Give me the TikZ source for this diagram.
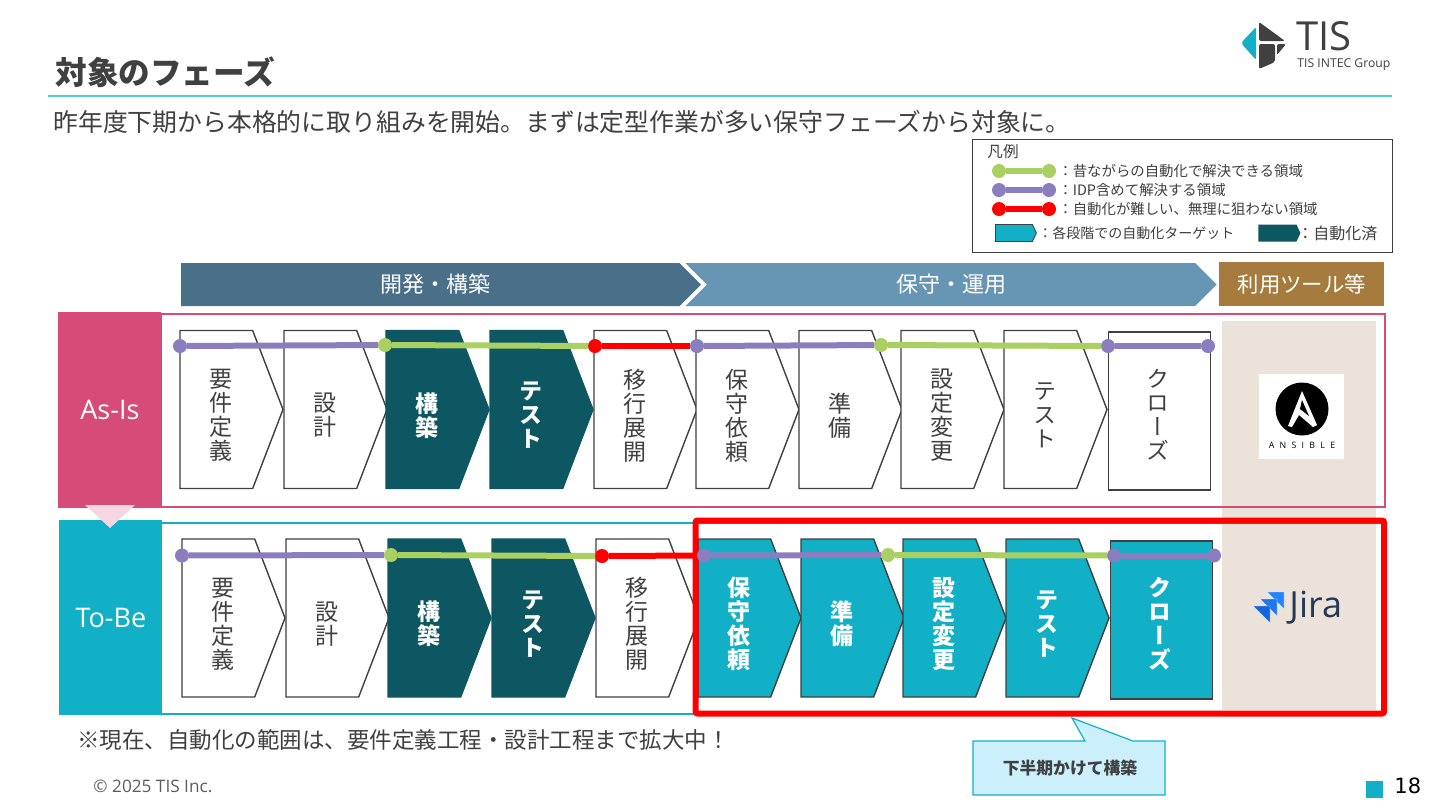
\documentclass[tikz,border=0pt]{standalone}
\usepackage{fontspec}
\setmainfont{Noto Sans CJK JP}
\newfontfamily\vertfont[RawFeature={+vert}]{Noto Sans CJK JP}
\newfontfamily\latinfont{Open Sans}
\newfontfamily\ansiblefont[LetterSpace=60]{Open Sans}
\newfontfamily\dejafont{DejaVu Sans}
\usepackage{xcolor}
\definecolor{inkgray}{HTML}{404040}
\definecolor{asisred}{HTML}{D64B78}
\definecolor{tobecyan}{HTML}{12B0C7}
\definecolor{doneteal}{HTML}{0C5762}
\definecolor{devblue}{HTML}{4A7089}
\definecolor{opsblue}{HTML}{6795B4}
\definecolor{toolbrown}{HTML}{A57C3E}
\definecolor{panelbeige}{HTML}{EBE3DA}
\definecolor{idppurple}{HTML}{8B7EBE}
\definecolor{oldgreen}{HTML}{AACF62}
\definecolor{hardred}{HTML}{FF0000}
\definecolor{jiranavy}{HTML}{253858}
\definecolor{jiratop}{HTML}{2684FF}
\definecolor{jiramid}{HTML}{1F78F0}
\definecolor{jirabot}{HTML}{1466E0}
\usetikzlibrary{
  arrows.meta,
  positioning,
  shapes.symbols,
  calc
}
\tikzset{
  stepshape/.style={shape=signal, signal to=east, signal pointer angle=138,
    minimum width=103*0.5pt, minimum height=158*0.5pt, inner sep=0pt,
    outer sep=0pt, anchor=west, align=center, line width=0.7pt, draw=inkgray},
  stepwhite/.style={stepshape, fill=white, text=inkgray,
    font=\fontsize{11.5}{12}\vertfont},
  stepdone/.style={stepshape, fill=doneteal, draw=doneteal, text=white,
    font=\fontsize{11.5}{12}\vertfont\bfseries},
  steptarget/.style={stepshape, fill=tobecyan, text=white,
    font=\fontsize{11.5}{12}\vertfont\bfseries},
  phasehead/.style={shape=signal, signal to=east,
    signal pointer angle=90, minimum height=43*0.5pt, inner sep=0pt,
    outer sep=0pt, anchor=west, text=white, font=\fontsize{11}{12}\selectfont},
  rowtab/.style={minimum width=103*0.5pt, inner sep=0pt, anchor=north west,
    text=white, font=\fontsize{13.5}{14}\latinfont},
  dotnode/.style={circle, minimum size=7pt, inner sep=0pt, outer sep=0pt},
  segline/.style={line width=3pt},
  legendtext/.style={anchor=west, inner sep=0pt, text=inkgray,
    font=\fontsize{7.2}{8}\selectfont},
}
% vertical label, nudged off the centre of its box
\newcommand{\vstack}[1]{\vbox{\baselineskip=12pt\lineskiplimit=-20pt\def\\{\cr}\halign{\hfil##\hfil\cr#1\cr}}}
\newcommand{\stepstack}[1]{\hspace*{5pt}\vbox{\kern6pt\vstack{#1}}}
\newcommand{\rectstack}[1]{\vbox{\kern3.4pt\vstack{#1}}\hspace*{2pt}}
\begin{document}
\begin{tikzpicture}[x=0.5pt,y=-0.5pt]
  \useasboundingbox (0,0) rectangle (1440,810);
  \fill[white] (0,0) rectangle (1440,810);

  % Title block
  \node[anchor=west, inner sep=0pt, text=inkgray, font=\fontsize{15.8}{16}\selectfont\bfseries] (title) at (55,72) {対象のフェーズ};
  \draw[tobecyan!70, line width=0.6pt] (48,96) coordinate (rulel) -- (1392,96) coordinate (ruler);
  \node[anchor=west, inner sep=0pt, text=inkgray, font=\fontsize{12.42}{13}\selectfont] (subtitle) at (53,122)
    {昨年度下期から本格的に取り組みを開始。まずは定型作業が多い保守フェーズから対象に。};

  % Logo
  \fill[tobecyan, rounded corners=1pt] (1241,43) -- (1256,27) -- (1256,60) -- cycle;
  \fill[inkgray, rounded corners=1pt] (1259,22) -- (1285,41) -- (1259,41) -- cycle;
  \fill[inkgray, rounded corners=1pt] (1259,44) -- (1275,44) -- (1275,62) -- (1259,69) -- cycle;
  \fill[inkgray, rounded corners=1pt] (1277,44) -- (1286,44) -- (1277,55) -- cycle;
  \node[anchor=west, inner sep=0pt, text=inkgray, font=\fontsize{20}{20}\latinfont] (tis) at (1296,36.5) {TIS};
  \node[anchor=west, inner sep=0pt, text=inkgray, font=\fontsize{6.1}{7}\latinfont] (intec) at (1297,65) {TIS INTEC Group};

  % Legend
  \node[draw=inkgray, line width=0.7pt, fill=white, minimum width=210pt, minimum height=56.5pt,
    inner sep=0pt, anchor=north west] (legend) at (972,139) {};
  \node[legendtext, font=\fontsize{7.8}{8}\selectfont] (legendhead) at (987,152) {凡例};
  \foreach \n/\y/\c/\t in {a/171/oldgreen/：昔ながらの自動化で解決できる領域,
                           b/190/idppurple/：IDP含めて解決する領域,
                           c/209/hardred/：自動化が難しい、無理に狙わない領域} {
    \node[dotnode, fill=\c] (leg\n l) at (999,\y) {};
    \node[dotnode, fill=\c] (leg\n r) at (1049,\y) {};
    \draw[segline, \c] (leg\n l) -- (leg\n r);
    \node[legendtext, xshift=-3pt] (legt\n) at (1064,\y) {\t};
  }
  \node[shape=signal, signal to=east, signal pointer angle=130, draw=inkgray, fill=tobecyan,
    minimum width=20.5pt, minimum height=8.5pt, inner sep=0pt, anchor=west] (legtarget) at (995,233) {};
  \node[legendtext, font=\fontsize{7}{8}\selectfont] (legtargett) at (1038,233) {：各段階での自動化ターゲット};
  \node[shape=signal, signal to=east, signal pointer angle=130, fill=doneteal,
    minimum width=21pt, minimum height=8.5pt, inner sep=0pt, anchor=west] (legdone) at (1258,233) {};
  \node[legendtext, xshift=-3pt, font=\fontsize{8}{9}\selectfont] (legdonet) at (1303,233) {：自動化済};

  % Phase headers
  \node[phasehead, signal from=nowhere, fill=devblue, minimum width=260pt] (dev) at (181,284.5) {\hspace*{5pt}開発・構築};
  \node[phasehead, signal from=west, fill=opsblue, minimum width=265.5pt] (ops) at (707,284.5) {保守・運用};
  \node[anchor=north west, fill=toolbrown, minimum width=82.5pt, minimum height=22pt, inner sep=0pt,
    text=white, font=\fontsize{10.7}{12}\selectfont] (tools) at (1219,262) {利用ツール等};

  % Tool panel and frames
  \fill[panelbeige] (1222,321) coordinate (panelt) rectangle (1376,710) coordinate (panelb);
  \draw[asisred, line width=1pt] (161,313.5) rectangle (1385,507);
  \draw[tobecyan, line width=1pt] (161,523) rectangle (1385,714);
  \node[rowtab, fill=asisred, minimum height=98pt] (asis) at (58,312) {As-Is};
  \node[rowtab, fill=tobecyan, minimum height=97.5pt] (tobe) at (59,520) {To-Be};
  \fill[asisred!22] (85,505) -- (135,505) -- (110,528) -- cycle;

  % As-Is steps
  \foreach \n/\x/\s/\t in {a1/180/stepwhite/要\\件\\定\\義, a2/284/stepwhite/設\\計,
      a3/386/stepdone/構\\築, a4/490/stepdone/テ\\ス\\ト, a5/594/stepwhite/移\\行\\展\\開,
      a6/696/stepwhite/保\\守\\依\\頼, a7/799/stepwhite/準\\備, a8/901/stepwhite/設\\定\\変\\更,
      a9/1004/stepwhite/テ\\ス\\ト} {
    \node[\s] (\n) at (\x,409.5) {\stepstack{\t}};
  }
  \node[draw=inkgray, line width=0.7pt, fill=white, minimum width=51pt, minimum height=79pt, inner sep=0pt,
    anchor=west, align=center, text=inkgray, font=\fontsize{11.5}{12}\vertfont] (a10) at (1108,411) {\rectstack{ク\\ロ\\ー\\ズ}};

  % To-Be steps
  \foreach \n/\x/\s/\t in {b1/182/stepwhite/要\\件\\定\\義, b2/286/stepwhite/設\\計,
      b3/388/stepdone/構\\築, b4/492/stepdone/テ\\ス\\ト, b5/596/stepwhite/移\\行\\展\\開,
      b6/698/steptarget/保\\守\\依\\頼, b7/801/steptarget/準\\備, b8/903/steptarget/設\\定\\変\\更,
      b9/1006/steptarget/テ\\ス\\ト} {
    \node[\s] (\n) at (\x,618) {\stepstack{\t}};
  }
  \node[draw=inkgray, line width=0.7pt, fill=tobecyan, minimum width=51pt, minimum height=79pt, inner sep=0pt,
    anchor=west, align=center, text=white, font=\fontsize{11.5}{12}\vertfont\bfseries] (b10) at (1110,620) {\rectstack{ク\\ロ\\ー\\ズ}};

  % Tools
  \node[fill=white, minimum size=42.5pt, inner sep=0pt] (ansiblebox) at (1301.5,416) {};
  \node[circle, fill=black, minimum size=26.5pt, inner sep=0pt] (ansiblemark) at (1302,409) {};
  \fill[white] (1302,391) -- (1317,425) -- (1313,427) -- (1299,415) -- (1292,427) -- (1288,426) -- cycle;
  \fill[black] (1302,400) -- (1309,416) -- (1300,409) -- cycle;
  \node[inner sep=0pt, text=black, font=\fontsize{4.4}{5}\ansiblefont] (ansibletext) at (1302,445) {ANSIBLE};
  \foreach \x/\y/\c in {1267/592/jiratop, 1260/599/jiramid, 1253/606/jirabot} {
    \fill[\c, draw=panelbeige, line width=0.2pt] (\x,\y) -- ++(17,0) -- ++(0,17) -- ++(-8,-8) -- cycle;
  }
  \node[anchor=west, inner sep=0pt, text=jiranavy, font=\fontsize{18}{18}\latinfont] (jira) at (1289,608) {Jira};

  % Red range
  \draw[hardred, line width=3pt, rounded corners=1pt] (695.5,520.5) rectangle (1384,713.5);

  % Phase lines
  \foreach \r/\px/\py/\gx/\gy/\hx/\hy/\ix/\iy/\jx/\jy/\kx/\ky/\lx/\ly in {
      p/180/346/385/345/595/346/697/346/881/345/1108/346/1208/346,
      q/182/555.5/391/555/602/556/704/555.5/888/555/1114/555.5/1214/555.5} {
    \node[dotnode, fill=idppurple] (\r1) at (\px,\py) {};
    \node[dotnode, fill=oldgreen] (\r2) at (\gx,\gy) {};
    \node[dotnode, fill=hardred] (\r3) at (\hx,\hy) {};
    \node[dotnode, fill=idppurple] (\r4) at (\ix,\iy) {};
    \node[dotnode, fill=oldgreen] (\r5) at (\jx,\jy) {};
    \node[dotnode, fill=idppurple] (\r6) at (\kx,\ky) {};
    \node[dotnode, fill=idppurple] (\r7) at (\lx,\ly) {};
    \draw[segline, idppurple] (\r1) -- (\r2);
    \draw[segline, oldgreen] (\r2) -- (\r3);
    \draw[segline, hardred] (\r3) -- (\r4);
    \draw[segline, idppurple] (\r4) -- (\r5);
    \draw[segline, oldgreen] (\r5) -- (\r6);
    \draw[segline, idppurple] (\r6) -- (\r7);
  }

  % Notes
  \node[anchor=west, inner sep=0pt, text=inkgray, font=\fontsize{11.25}{12}\selectfont] (note) at (77,740)
    {※現在、自動化の範囲は、要件定義工程・設計工程まで拡大中！};
  \draw[tobecyan, fill=cyan!20, line width=0.6pt] (973,741) -- (1085,741) -- (1072,718) -- (1133,741)
    -- (1165,741) -- (1165,795) -- (973,795) -- cycle;
  \node[inner sep=0pt, text=inkgray, font=\fontsize{8.4}{9}\selectfont\bfseries] (callout) at (1070,768) {下半期かけて構築};

  % Footer
  \node[anchor=west, inner sep=0pt, text=inkgray!85, font=\fontsize{8.6}{9}\latinfont] (copyright) at (93,786) {© 2025 TIS Inc.};
  \node[fill=tobecyan, minimum size=8.5pt, inner sep=0pt, anchor=north west] (pagemark) at (1366,781) {};
  \node[anchor=west, inner sep=0pt, text=black, font=\fontsize{10.5}{11}\dejafont] (pagenum) at (1394,786) {18};
\end{tikzpicture}
\end{document}
